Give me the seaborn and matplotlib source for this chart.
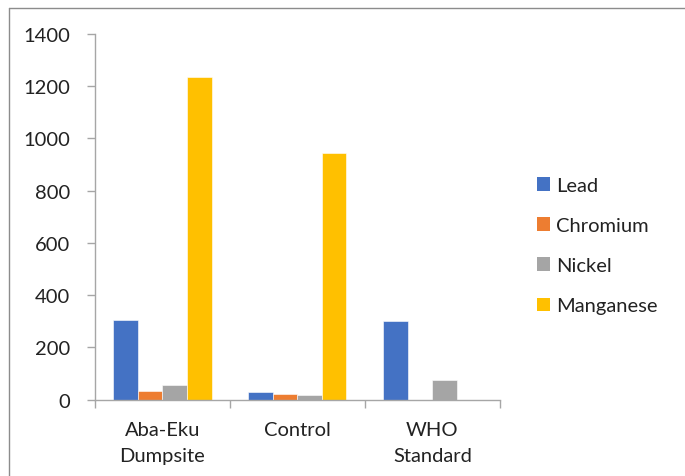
import matplotlib
matplotlib.use("Agg")
import matplotlib.pyplot as plt
import seaborn as sns
import pandas as pd
import numpy as np
from matplotlib.lines import Line2D
from matplotlib.patches import Patch

sites = ["Aba-Eku\nDumpsite", "Control", "WHO\nStandard"]
metals = ["Lead", "Chromium", "Nickel", "Manganese"]
lead = [304, 31, 300]
chromium = [34, 22, 0]
nickel = [55, 18, 76]
manganese = [1236, 942, 0]
colors = ["#4472C4", "#ED7D31", "#A5A5A5", "#FFC000"]
yticks = [0, 200, 400, 600, 800, 1000, 1200, 1400]

df = pd.DataFrame({
    "site": np.repeat(sites, len(metals)),
    "metal": metals * len(sites),
    "value": [v for row in zip(lead, chromium, nickel, manganese) for v in row],
})

sns.set_theme(style="white")
plt.rcParams["font.family"] = ["Lato", "DejaVu Sans"]

fig = plt.figure(figsize=(6.85, 4.77), dpi=100)
ax = fig.add_axes([0.1387, 0.160, 0.591, 0.7673])

sns.barplot(data=df, x="site", y="value", hue="metal", hue_order=metals,
            palette=colors, width=4 / 5.5, ax=ax, legend=False,
            edgecolor="white", linewidth=0.4, saturation=1)

fs = 14.5
ax.set_ylim(0, 1400)
ax.set_xlim(-0.5, 2.5)
ax.set_yticks(yticks)
ax.set_yticklabels([str(t) for t in yticks], fontsize=fs, color="#222222")
ax.set_xlabel("")
ax.set_ylabel("")
ax.set_xticks(range(len(sites)))
ax.set_xticklabels(sites, fontsize=fs, color="#222222", linespacing=1.65)
ax.tick_params(axis="x", which="major", length=0, pad=15)
ax.set_xticks([-0.5, 0.5, 1.5, 2.5], minor=True)
ax.tick_params(axis="x", which="minor", length=6, width=1, color="#A6A6A6",
               direction="out", bottom=True)
ax.tick_params(axis="y", length=6, width=1, color="#A6A6A6", direction="out",
               left=True, pad=12)
for s in ["top", "right"]:
    ax.spines[s].set_visible(False)
for s in ["left", "bottom"]:
    ax.spines[s].set_color("#A6A6A6")
    ax.spines[s].set_linewidth(1)

handles = [Patch(facecolor=c, edgecolor="none") for c in colors]
fig.legend(handles, metals, loc="upper left", bbox_to_anchor=(0.757, 0.665),
           frameon=False, fontsize=fs, handlelength=0.65, handleheight=0.65,
           handletextpad=0.3, labelspacing=1.15, labelcolor="#222222")

# outer chart border (top and left edges)
W, H = 685, 477
fig.add_artist(Line2D([9 / W, 1.02], [1 - 9 / H, 1 - 9 / H],
                      transform=fig.transFigure, color="#8C8C8C", lw=1))
fig.add_artist(Line2D([9 / W, 9 / W], [1 - 9 / H, -0.02],
                      transform=fig.transFigure, color="#8C8C8C", lw=1))

fig.savefig("out.png", dpi=100)
